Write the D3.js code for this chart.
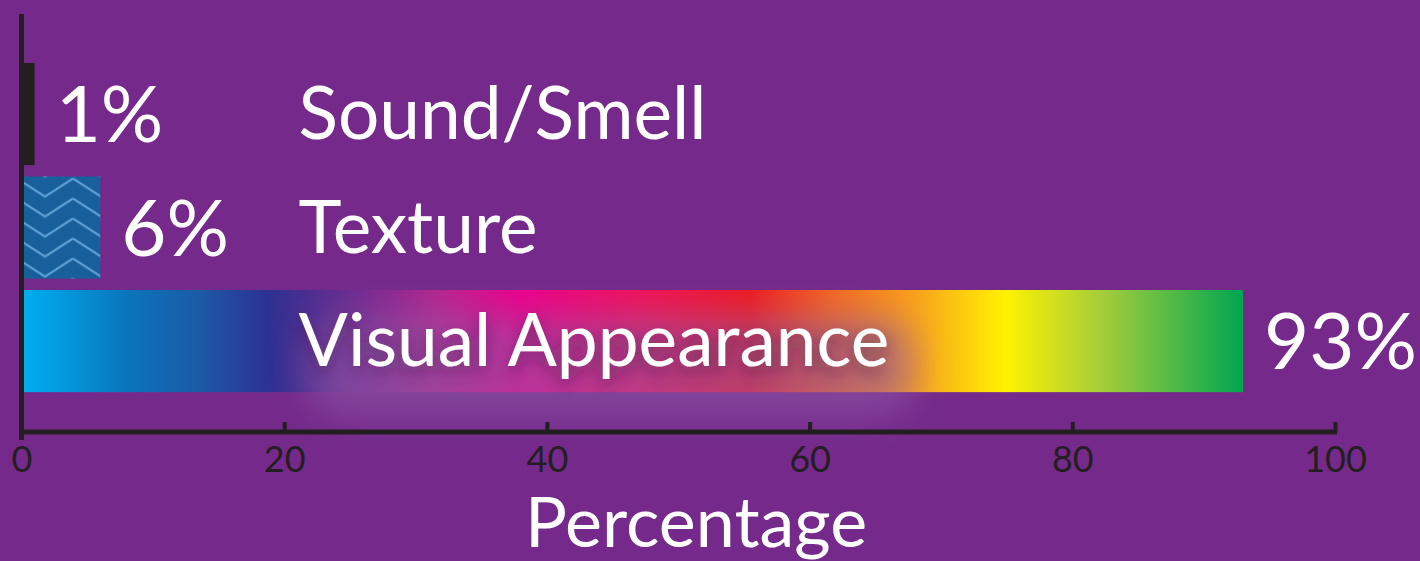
<!DOCTYPE html>
<html>
<head>
<meta charset="utf-8">
<script src="https://cdn.jsdelivr.net/npm/d3@7/dist/d3.min.js"></script>
<style>
  html, body { margin: 0; padding: 0; background: #752a8b; }
  svg { display: block; }
  text { font-family: Lato, "Open Sans", sans-serif; }
</style>
</head>
<body>
<svg id="chart" width="1420" height="561"></svg>
<script>
// ---- data ----
const categories = ["Sound/Smell", "Texture", "Visual Appearance"];
const values = [1, 6, 93];
const valueLabels = ["1%", "6%", "93%"];
const xTicks = [0, 20, 40, 60, 80, 100];
const xTitle = "Percentage";

// spectrum stops for the visual appearance bar
const gradientOffsets = [0, 0.087, 0.144, 0.2, 0.267, 0.34, 0.407, 0.505, 0.595, 0.66, 0.735, 0.805, 0.883, 1];
const gradientColors = ["#00aeef", "#0a74bb", "#1c5aa6", "#2e3192", "#6a2c91", "#b5268f", "#ec008c", "#ed145b", "#ed1c24", "#f26522", "#f9a61b", "#fff200", "#a6ce39", "#00a651"];

const ink = "#231f20";
const svg = d3.select("#chart");

const x = d3.scaleLinear().domain([0, 100]).range([21.5, 1335]);
const y = d3.scaleBand().domain(categories).range([51.65, 403.5]).paddingInner(0.1).paddingOuter(0.1);

const defs = svg.append("defs");

// gradient
const grad = defs.append("linearGradient")
  .attr("id", "spectrum")
  .attr("gradientUnits", "userSpaceOnUse")
  .attr("x1", x(0) + 2.5).attr("x2", x(values[2])).attr("y1", 0).attr("y2", 0);
gradientOffsets.forEach((o, i) => grad.append("stop").attr("offset", o).attr("stop-color", gradientColors[i]));

// zigzag pattern
const pat = defs.append("pattern")
  .attr("id", "zigzag")
  .attr("patternUnits", "userSpaceOnUse")
  .attr("x", 17).attr("y", y("Texture") + 2)
  .attr("width", 56).attr("height", 20);
pat.append("rect").attr("width", 56).attr("height", 20).attr("fill", "#17609c");
[-20, 0, 20].forEach(dy => {
  pat.append("path")
    .attr("d", `M0,${dy} L28,${dy + 18} L56,${dy}`)
    .attr("fill", "none").attr("stroke", "#66a5d8").attr("stroke-width", 2);
});

// blur filter for the glow
defs.append("filter").attr("id", "blurBig").attr("x", "-40%").attr("y", "-100%").attr("width", "180%").attr("height", "300%")
  .append("feGaussianBlur").attr("stdDeviation", 17);

// drop shadow for the long label
const sh = defs.append("filter").attr("id", "textShadow").attr("x", "-10%").attr("y", "-60%").attr("width", "120%").attr("height", "220%");
sh.append("feGaussianBlur").attr("in", "SourceAlpha").attr("stdDeviation", 8).attr("result", "b");
sh.append("feOffset").attr("in", "b").attr("dy", 7).attr("result", "o");
sh.append("feFlood").attr("flood-color", "#3a1a45").attr("flood-opacity", 0.6).attr("result", "f");
sh.append("feComposite").attr("in", "f").attr("in2", "o").attr("operator", "in").attr("result", "s");
const mg = sh.append("feMerge");
mg.append("feMergeNode").attr("in", "s");
mg.append("feMergeNode").attr("in", "SourceGraphic");

// bars
const fills = { "Sound/Smell": ink, "Texture": "url(#zigzag)", "Visual Appearance": "url(#spectrum)" };
svg.append("g").selectAll("rect")
  .data(categories)
  .join("rect")
  .attr("x", x(0))
  .attr("y", d => y(d))
  .attr("width", (d, i) => x(values[i]) - x(0))
  .attr("height", y.bandwidth())
  .attr("fill", d => fills[d]);

// category labels
const labelX = x(0) + 277;
const labelDy = 25;
const vaY = y("Visual Appearance") + y.bandwidth() / 2 + labelDy;
// soft glow behind the long label
svg.append("rect")
  .attr("x", labelX + 8).attr("y", vaY - 50)
  .attr("width", 610).attr("height", 100).attr("rx", 40)
  .attr("fill", "rgb(145,92,168)").attr("opacity", 0.55)
  .attr("filter", "url(#blurBig)");

svg.append("g").selectAll("text")
  .data(categories)
  .join("text")
  .attr("x", labelX)
  .attr("y", d => y(d) + y.bandwidth() / 2 + labelDy)
  .attr("font-size", 73)
  .attr("fill", "#ffffff")
  .attr("filter", (d, i) => i === 2 ? "url(#textShadow)" : null)
  .text(d => d);

// value labels
svg.append("g").selectAll("text")
  .data(values)
  .join("text")
  .attr("x", d => x(d) + 21)
  .attr("y", (d, i) => y(categories[i]) + y.bandwidth() / 2 + 28)
  .attr("font-size", 78)
  .attr("fill", "#ffffff")
  .text((d, i) => valueLabels[i]);

// x axis
const xAxis = d3.axisBottom(x).tickValues(xTicks).tickFormat(d3.format("d")).tickSize(-10).tickSizeOuter(0).tickPadding(14);
const gx = svg.append("g").attr("transform", "translate(0,432)").call(xAxis);
gx.select(".domain").attr("stroke", ink).attr("stroke-width", 5).attr("d", `M${x(0) - 2.5},0H${x(100) + 2}`);
gx.selectAll(".tick line").attr("stroke", ink).attr("stroke-width", 4).attr("y1", 0);
gx.selectAll(".tick text").attr("fill", ink).attr("font-size", 36).attr("font-family", "Lato, 'Open Sans', sans-serif").attr("dy", "0.71em");

// y axis line
svg.append("line")
  .attr("x1", x(0)).attr("x2", x(0))
  .attr("y1", 14).attr("y2", 440)
  .attr("stroke", ink).attr("stroke-width", 5);

// x title
svg.append("text")
  .attr("x", 696).attr("y", 547)
  .attr("text-anchor", "middle")
  .attr("font-size", 70)
  .attr("fill", "#ffffff")
  .text(xTitle);
</script>
</body>
</html>
